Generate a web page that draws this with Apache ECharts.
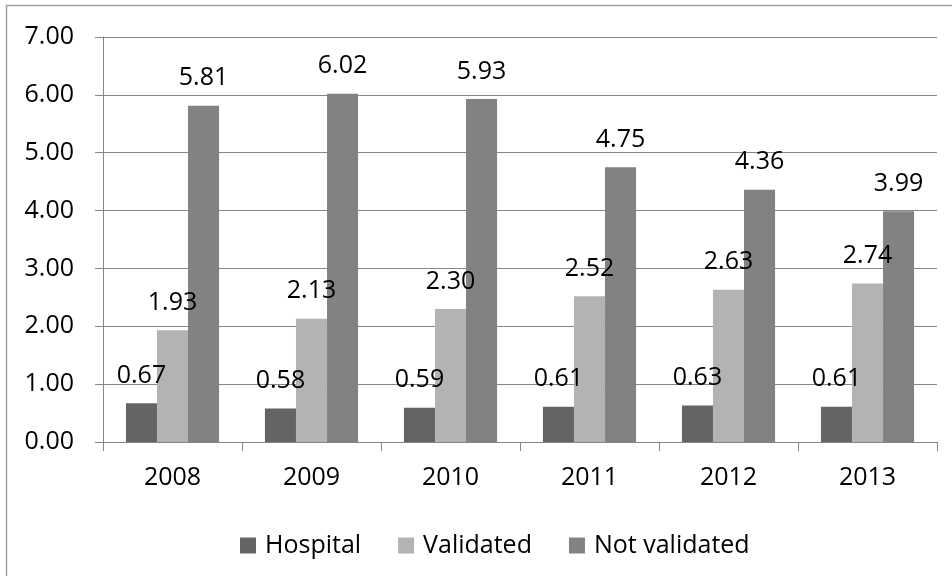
<!DOCTYPE html>
<html>
<head>
<meta charset="utf-8">
<script src="https://cdn.jsdelivr.net/npm/echarts@6/dist/echarts.min.js"></script>
<style>html,body{margin:0;padding:0;background:#fff;}#c{width:952px;height:576px;}</style>
</head>
<body>
<div id="c"></div>
<script>
const categories = ['2008', '2009', '2010', '2011', '2012', '2013'];
const hospital = [0.67, 0.58, 0.59, 0.61, 0.63, 0.61];
const validated = [1.93, 2.13, 2.30, 2.52, 2.63, 2.74];
const notValidated = [5.81, 6.02, 5.93, 4.75, 4.36, 3.99];
const seriesNames = ['Hospital', 'Validated', 'Not validated'];
const seriesColors = ['#646464', '#b3b3b3', '#828282'];

const FONT = 'Open Sans';
const FS = 25;
const chart = echarts.init(document.getElementById('c'), null, {renderer: 'canvas'});

function mk(name, data, color) {
  return {
    name: name,
    type: 'bar',
    data: data,
    barGap: '0%',
    barCategoryGap: '33%',
    itemStyle: {color: color},
    label: {
      show: true,
      position: 'top',
      distance: 15,
      color: '#000',
      fontFamily: FONT,
      fontSize: FS,
      formatter: p => p.value.toFixed(2)
    }
  };
}

chart.setOption({
  animation: false,
  backgroundColor: '#fff',
  graphic: [{
    type: 'rect',
    shape: {x: 6.5, y: 5.5, width: 1000, height: 1000},
    style: {fill: 'none', stroke: '#a0a0a0', lineWidth: 1.5},
    silent: true,
    z: -1
  }],
  grid: {left: 103, right: 15, top: 37, bottom: 134, containLabel: false},
  legend: {
    data: seriesNames,
    left: 235,
    top: 528,
    itemWidth: 16,
    itemHeight: 16,
    itemGap: 37,
    icon: 'rect',
    textStyle: {fontFamily: FONT, fontSize: FS, color: '#000', padding: [0, 0, 0, 4]}
  },
  xAxis: {
    type: 'category',
    data: categories,
    axisLine: {lineStyle: {color: '#868686', width: 1}},
    axisTick: {show: true, length: 9, lineStyle: {color: '#868686'}},
    axisLabel: {margin: 23, color: '#000', fontFamily: FONT, fontSize: FS}
  },
  yAxis: {
    type: 'value',
    min: 0,
    max: 7,
    interval: 1,
    axisLine: {show: true, lineStyle: {color: '#868686', width: 1}},
    axisTick: {show: true, length: 8, lineStyle: {color: '#868686'}},
    splitLine: {lineStyle: {color: '#868686', width: 1}},
    axisLabel: {margin: 29, color: '#000', fontFamily: FONT, fontSize: FS, formatter: v => v.toFixed(2)}
  },
  series: [
    mk(seriesNames[0], hospital, seriesColors[0]),
    mk(seriesNames[1], validated, seriesColors[1]),
    mk(seriesNames[2], notValidated, seriesColors[2])
  ]
});
</script>
</body>
</html>
